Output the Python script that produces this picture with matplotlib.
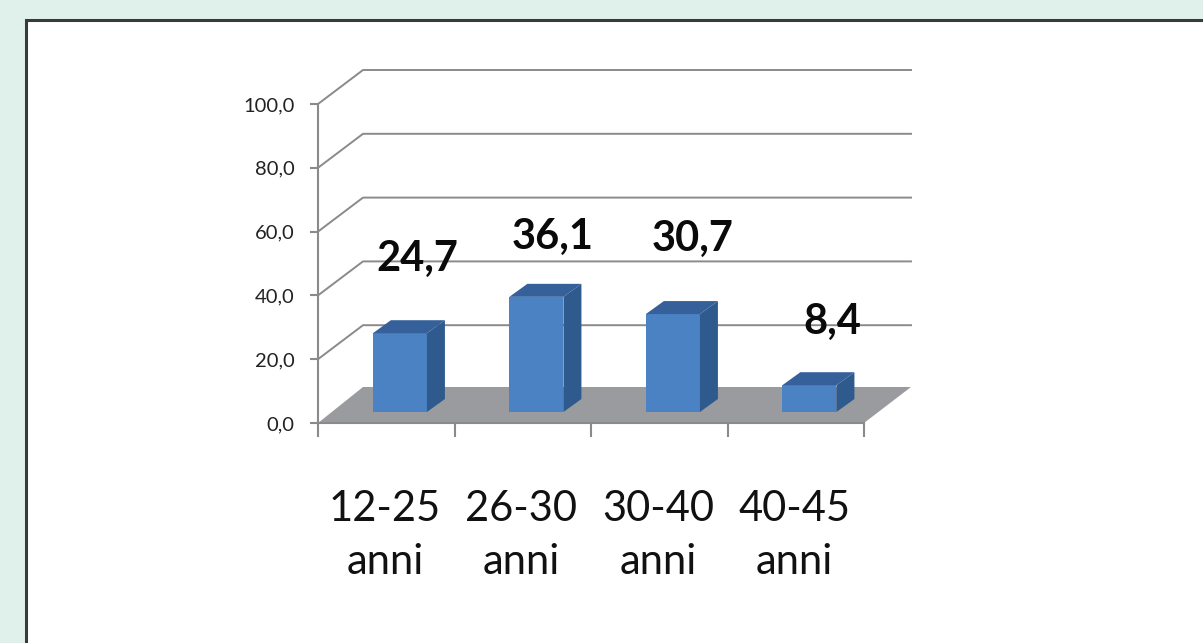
import matplotlib
matplotlib.use('Agg')
import matplotlib.pyplot as plt
from matplotlib.patches import Polygon, Rectangle

categories = ['12-25\nanni', '26-30\nanni', '30-40\nanni', '40-45\nanni']
values = [24.7, 36.1, 30.7, 8.4]
value_labels = ['24,7', '36,1', '30,7', '8,4']
y_ticks = [0, 20, 40, 60, 80, 100]
y_tick_labels = ['0,0', '20,0', '40,0', '60,0', '80,0', '100,0']

W, H = 1203, 643
X0, Y0 = 318, 423      # pixel of the axes origin
PX_CAT = 136.5         # pixels for one category
PX_UNIT = 3.19         # pixels for one value unit

# 3d look, in data units
WALL_DX = 45 / PX_CAT
WALL_DY = 34 / PX_UNIT
FLOOR_DY = 36 / PX_UNIT
RIGHT_DX = 47 / PX_CAT
BAR_DX = 18 / PX_CAT
BAR_DY = 13 / PX_UNIT
BAR_BASE = 11 / PX_UNIT
BAR_W = 0.396
N = len(categories)

GRID = '#8a8a8a'
FLOOR = '#9a9b9e'
FRONT = '#4a82c3'
TOP = '#35609a'
SIDE = '#2f5a8e'

plt.rcParams['font.family'] = ['Lato', 'DejaVu Sans']

fig = plt.figure(figsize=(W / 100, H / 100), dpi=100, facecolor='#e0f0eb')
fig.patches.append(Rectangle((26 / W, -0.01), 1.01 - 26 / W, 1.01 - 20 / H, transform=fig.transFigure,
                             facecolor='white', edgecolor='#3a3a3a', linewidth=2.2, zorder=-1))

ax = fig.add_axes([0, 0, 1, 1])
ax.patch.set_visible(False)
ax.set_xlim(-X0 / PX_CAT, (W - X0) / PX_CAT)
ax.set_ylim((Y0 - H) / PX_UNIT, Y0 / PX_UNIT)

# back wall gridlines
for v in y_ticks[1:]:
    ax.plot([0, WALL_DX, N + RIGHT_DX], [v, v + WALL_DY, v + WALL_DY], color=GRID, lw=1.4, zorder=1)

# floor
ax.add_patch(Polygon([(0, 0), (N, 0), (N + RIGHT_DX, FLOOR_DY), (WALL_DX, FLOOR_DY)],
                     facecolor=FLOOR, edgecolor='none', zorder=2))

# bars
for i, v in enumerate(values):
    x = i + 0.6
    left, right = x - BAR_W / 2, x + BAR_W / 2
    base, top = BAR_BASE, BAR_BASE + v
    ax.bar(x, v, BAR_W, bottom=base, color=FRONT, zorder=3)
    ax.add_patch(Polygon([(left, top), (right, top), (right + BAR_DX, top + BAR_DY), (left + BAR_DX, top + BAR_DY)],
                         facecolor=TOP, edgecolor='none', zorder=3))
    ax.add_patch(Polygon([(right, base), (right + BAR_DX, base + BAR_DY), (right + BAR_DX, top + BAR_DY), (right, top)],
                         facecolor=SIDE, edgecolor='none', zorder=3))

# value labels, placed by hand like in the original
label_px = [(417, 259), (553, 237), (693, 239), (832, 322)]
for txt, (px, py) in zip(value_labels, label_px):
    ax.text((px - X0) / PX_CAT, (Y0 - py) / PX_UNIT, txt, ha='center', va='center',
            fontsize=30, fontweight='bold', color='#0a0a0a', zorder=5)

# axes
for s in ['top', 'right']:
    ax.spines[s].set_visible(False)
ax.spines['left'].set_position(('data', 0))
ax.spines['bottom'].set_position(('data', 0))
ax.spines['left'].set_bounds(0, 100)
ax.spines['bottom'].set_bounds(0, N)
for s in ['left', 'bottom']:
    ax.spines[s].set_color(GRID)
    ax.spines[s].set_linewidth(1.5)
    ax.spines[s].set_zorder(4)

ax.set_yticks(y_ticks)
ax.set_yticklabels(y_tick_labels, fontsize=14.5, color='#222222')
ax.tick_params(axis='y', length=6, width=1.5, color=GRID, pad=11)
ax.set_xticks(range(N + 1))
ax.set_xticklabels([])
ax.set_xticks([i + 0.49 for i in range(N)], minor=True)
ax.set_xticklabels(categories, minor=True, fontsize=30, color='#111111', linespacing=1.5)
ax.tick_params(axis='x', which='major', length=10, width=1.5, color=GRID)
ax.tick_params(axis='x', which='minor', length=0, pad=48)

fig.savefig('out.png', dpi=100, facecolor=fig.get_facecolor())
